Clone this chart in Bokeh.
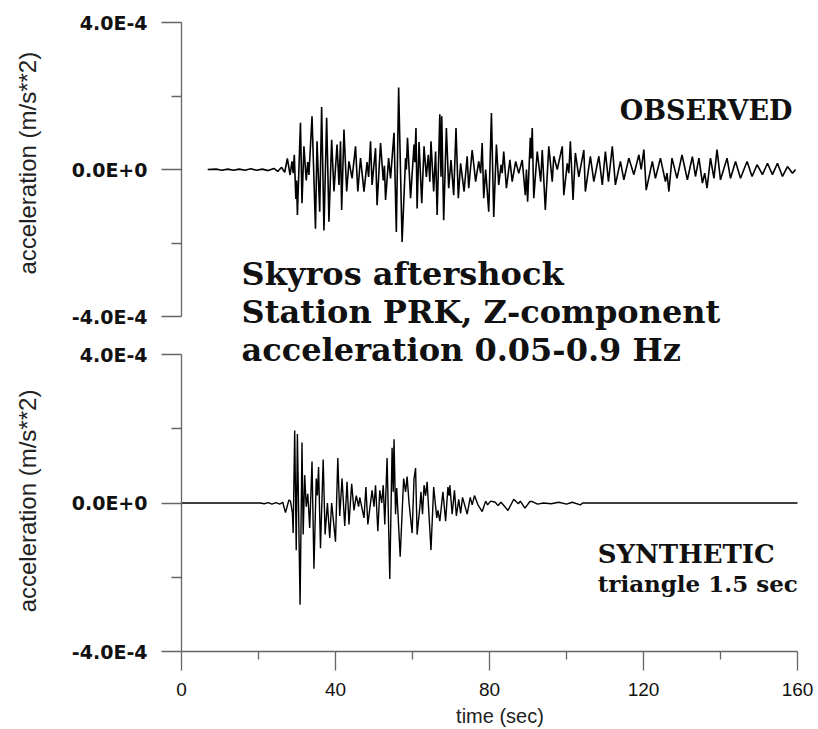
from bokeh.plotting import figure
from bokeh.layouts import column
from bokeh.models import FixedTicker, CustomJSTickFormatter, Label, ColumnDataSource, Range1d
from bokeh.embed import file_html
from bokeh.resources import INLINE
import numpy as np

# ---------------- data (time in s, acceleration in units of 1E-4 m/s**2) ----------------
obs_time = [6.8, 9.0, 10.5, 12.0, 13.5, 15.0, 16.5, 18.0, 19.5, 21.0, 22.5, 24.0, 25.0, 26.0, 26.8,
            27.5, 28.2, 28.7, 29.0, 29.3, 29.7, 29.9, 30.1, 30.9, 31.3, 31.8, 32.4, 32.8, 33.1, 33.9,
            34.8, 35.2, 35.9, 36.4, 37.0, 37.7, 38.3, 39.0, 39.6, 40.4, 40.9, 41.3, 41.6, 42.2, 42.9,
            43.5, 44.3, 45.2, 45.8, 46.5, 47.4, 48.2, 48.6, 49.1, 49.5, 50.4, 50.8, 51.7, 52.4, 52.7,
            53.0, 53.8, 54.3, 55.2, 55.8, 56.4, 57.3, 58.2, 58.4, 58.7, 59.5, 60.4, 60.6, 60.9, 61.2,
            61.7, 62.4, 63.0, 63.6, 64.1, 64.5, 64.8, 65.5, 66.0, 66.4, 67.1, 67.4, 67.6, 68.1, 68.8,
            69.4, 70.0, 70.7, 71.3, 71.9, 72.5, 73.4, 74.2, 74.6, 75.5, 76.4, 77.2, 77.7, 78.1, 78.5,
            79.0, 79.8, 80.5, 81.1, 81.8, 82.4, 83.0, 83.3, 83.7, 84.4, 85.3, 85.9, 86.8, 87.6, 88.5,
            89.3, 89.6, 89.9, 90.6, 90.8, 91.1, 91.5, 92.4, 93.3, 93.7, 94.5, 95.4, 96.3, 96.7, 97.6,
            98.9, 99.3, 100.2, 100.6, 101.0, 101.7, 102.3, 103.2, 104.5, 104.9, 106.2, 107.1, 108.4,
            109.3, 110.1, 110.9, 111.9, 112.7, 114.0, 114.9, 116.2, 117.5, 118.8, 119.4, 120.1, 120.7,
            122.3, 123.1, 124.4, 125.7, 126.1, 126.6, 127.4, 128.7, 130.0, 131.4, 132.7, 133.5, 134.4,
            135.3, 135.9, 136.5, 137.4, 138.3, 139.1, 140.0, 141.7, 142.6, 143.9, 145.2, 146.9, 148.2,
            149.5, 150.9, 152.2, 153.5, 154.8, 156.1, 157.4, 158.7, 159.5]
obs_acc_e4 = [0.0, 0.01, -0.02, 0.01, -0.02, 0.01, -0.02, 0.02, -0.02, 0.01, -0.03, 0.03, -0.05, 0.06, -0.08,
              0.3, -0.15, 0.22, -0.1, 0.4, -0.8, -0.3, -1.24, 1.27, -0.92, 0.63, -0.3, 0.2, -0.15, 1.45,
              -1.61, 0.77, -1.15, 1.70, -1.66, 1.41, -1.42, 0.81, -0.60, 0.68, -0.42, 0.77, -1.10, 1.09, -0.60,
              0.22, -0.24, 0.63, -0.60, 0.31, -0.60, 0.2, -0.2, 0.77, -0.42, 0.58, -0.97, 0.72, -0.3, 0.1,
              -0.83, 0.31, -0.24, 1.0, -1.70, 2.23, -1.97, 0.31, 0.0, 0.86, -0.78, 0.68, 0.2, 1.13, -1.06,
              0.75, -0.92, 0.63, -0.2, 0.4, -0.33, 0.77, -0.6, 0.49, -1.24, 1.5, -0.2, 1.45, -1.38, 1.13,
              -0.51, 0.26, -0.70, 1.13, -0.78, 0.17, -0.60, 0.36, -0.51, 0.53, -0.33, 0.22, -0.1, 0.72, -0.78,
              0.0, -1.15, 1.54, -1.29, 0.68, -0.42, 0.13, -0.1, 0.49, -0.51, 0.26, -0.33, 0.22, -0.1, 0.26,
              -0.70, 0.0, -0.88, 0.86, 0.3, 1.13, -0.78, 0.49, -0.33, 0.53, -1.10, 0.63, -0.33, 0.36, 0.0,
              0.63, -0.70, 0.17, -0.1, 0.77, -0.83, 0.45, -0.2, 0.53, -0.60, 0.36, -0.33, 0.36,
              -0.42, 0.49, -0.33, 0.63, -0.42, 0.22, -0.28, 0.31, -0.14, 0.40, 0.0, 0.54, -0.56,
              0.22, -0.24, 0.31, -0.33, -0.1, -0.6, 0.31, -0.24, 0.40, -0.28, 0.35, -0.19, 0.31,
              -0.37, -0.1, -0.51, 0.31, -0.24, 0.54, -0.28, 0.31, -0.24, 0.22, -0.24, 0.22, -0.19,
              0.13, -0.14, 0.17, -0.14, 0.17, -0.19, 0.08, -0.10, 0.0]

syn_time = [0.0, 20.5, 21.5, 22.5, 23.5, 24.5, 25.5, 26.3, 27.0, 27.9, 28.3, 28.8, 29.0, 29.4, 29.8,
            30.1, 30.8, 31.3, 31.6, 32.0, 32.4, 32.8, 33.3, 33.9, 34.4, 35.0, 35.3, 35.6, 36.1, 36.8,
            37.3, 37.9, 38.5, 39.0, 40.0, 40.6, 41.1, 41.7, 42.4, 43.0, 43.5, 44.2, 44.8, 45.4, 46.0,
            46.3, 47.4, 47.9, 48.4, 49.5, 50.0, 50.4, 51.0, 51.5, 52.0, 52.4, 52.8, 53.4, 54.1, 54.7,
            55.0, 55.2, 55.6, 55.9, 56.8, 57.7, 58.2, 58.6, 59.1, 59.9, 60.4, 60.8, 61.2, 61.9, 62.2,
            62.6, 63.0, 63.4, 63.8, 64.8, 65.5, 66.3, 66.6, 67.1, 67.9, 68.6, 69.2, 69.5, 69.7, 70.3,
            70.9, 71.4, 72.0, 72.5, 73.0, 74.2, 75.0, 75.5, 76.1, 77.0, 78.1, 79.0, 79.5, 80.3, 81.5,
            82.2, 83.0, 84.8, 86.3, 87.5, 88.0, 89.2, 90.5, 91.1, 92.5, 94.0, 96.0, 98.0, 100.0, 101.5,
            103.6, 104.2, 160.0]
syn_acc_e4 = [0.0, 0.0, -0.02, 0.01, -0.03, 0.01, -0.03, 0.02, -0.26, 0.08, 0.05, -0.26, -0.81, 1.95, -1.27,
              1.86, -2.74, 1.63, -0.85, 0.75, -0.1, 0.25, -0.67, 1.12, -1.77, 0.66, 0.2, 0.97, -1.22, 1.17,
              -0.85, 0.0, -0.94, 0.0, -1.04, 1.21, -0.35, 0.66, -0.62, 0.57, -0.58, 0.52, -0.2, 0.2, -0.1,
              0.15, -0.40, 0.43, -0.58, 0.34, -0.1, 0.48, -0.76, 0.34, 0.0, 0.48, -0.58, 1.21, -2.05, 1.49,
              0.3, 1.72, -0.3, 0.4, -1.45, 0.66, 0.3, 0.71, 0.0, -0.81, 0.66, 0.94, -0.85, -0.12, 0.3,
              -0.3, 0.48, 0.2, 0.57, -1.27, 0.43, -0.4, -0.2, -0.49, 0.3, -0.49, 0.43, 0.2, 0.48, -0.3,
              0.34, -0.35, 0.1, -0.28, 0.15, -0.3, 0.15, -0.05, 0.2, -0.05, -0.23, 0.05, -0.05, 0.05, 0.02,
              -0.07, 0.02, -0.2, 0.1, -0.02, 0.05, -0.14, 0.04, 0.04, -0.03, 0.0, -0.02, 0.02, -0.03, 0.02,
              -0.05, 0.0, 0.0]

x_ticks = [0, 40, 80, 120, 160]
x_minor_ticks = [20, 60, 100, 140]
y_ticks = [-4e-4, 0.0, 4e-4]
y_minor_ticks = [-2e-4, 2e-4]

title_lines = ["Skyros aftershock", "Station PRK, Z-component", "acceleration 0.05-0.9 Hz"]
y_label = "acceleration (m/s**2)"

obs_src = ColumnDataSource(dict(t=obs_time, a=np.array(obs_acc_e4) * 1e-4))
syn_src = ColumnDataSource(dict(t=syn_time, a=np.array(syn_acc_e4) * 1e-4))

AX = "#666666"
T0, T1 = 0.0, 160.0
A0, A1 = -4e-4, 4e-4
PX_PER_SEC = 616.0 / (T1 - T0)        # axis 0..160 spans 616 px
EXTRA_RIGHT = 21.0 / PX_PER_SEC        # frame runs to the right edge
NB = "\u00a0"


def make_fig(height, top_pad, bottom_pad, axis_px, show_x, label_text):
    """axis_px: pixel length of the -4E-4..4E-4 axis; top_pad/bottom_pad: frame px beyond it."""
    per_px = (A1 - A0) / axis_px
    y_rng = Range1d(A0 - bottom_pad * per_px, A1 + top_pad * per_px)
    p = figure(width=818, height=height,
               x_range=Range1d(T0, T1 + EXTRA_RIGHT), y_range=y_rng,
               output_backend="svg", toolbar_location=None,
               x_axis_location="below" if show_x else None,
               min_border_left=181, min_border_right=0,
               min_border_top=0, min_border_bottom=78 if show_x else 0)
    p.grid.visible = False
    p.outline_line_color = None
    p.background_fill_color = "white"
    p.border_fill_color = "white"
    ya = p.yaxis[0]
    ya.bounds = (A0, A1)
    ya.ticker = FixedTicker(ticks=y_ticks, minor_ticks=y_minor_ticks)
    ya.formatter = CustomJSTickFormatter(code="return tick.toExponential(1).toUpperCase();")
    ya.axis_line_color = AX
    ya.axis_line_width = 1.3
    ya.major_tick_line_color = AX
    ya.major_tick_line_width = 1.3
    ya.minor_tick_line_color = AX
    ya.minor_tick_line_width = 1.3
    ya.major_tick_in = 0
    ya.major_tick_out = 20
    ya.minor_tick_in = 0
    ya.minor_tick_out = 10
    ya.major_label_text_font = "DejaVu Sans"
    ya.major_label_text_font_style = "bold"
    ya.major_label_text_font_size = "19px"
    ya.major_label_text_color = "#111111"
    ya.major_label_standoff = 14
    ya.axis_label = label_text
    ya.axis_label_text_font = "Liberation Sans"
    ya.axis_label_text_font_style = "normal"
    ya.axis_label_text_font_size = "24px"
    ya.axis_label_text_color = "#222222"
    ya.axis_label_standoff = 28
    if show_x:
        xa = p.xaxis[0]
        xa.bounds = (T0, T1)
        xa.ticker = FixedTicker(ticks=x_ticks, minor_ticks=x_minor_ticks)
        xa.axis_line_color = AX
        xa.axis_line_width = 1.3
        xa.major_tick_line_color = AX
        xa.major_tick_line_width = 1.3
        xa.minor_tick_line_color = AX
        xa.minor_tick_line_width = 1.3
        xa.major_tick_in = 0
        xa.major_tick_out = 19
        xa.minor_tick_in = 0
        xa.minor_tick_out = 8
        xa.major_label_text_font = "Liberation Sans"
        xa.major_label_text_font_size = "19px"
        xa.major_label_text_color = "#111111"
        xa.major_label_standoff = 12
        xa.axis_label = "time (sec)"
        xa.axis_label_text_font = "Liberation Sans"
        xa.axis_label_text_font_style = "normal"
        xa.axis_label_text_font_size = "20px"
        xa.axis_label_text_color = "#222222"
        xa.axis_label_standoff = 6
    return p


def serif_label(p, x, y, text, size, align="left"):
    p.add_layout(Label(x=x, y=y, text=text, text_align=align, text_baseline="alphabetic",
                       text_font="DejaVu Serif", text_font_style="bold",
                       text_font_size=size, text_color="#111111"))


# top panel: canvas rows 0..330, axis 22..316, frame 22..330
top = make_fig(330, 0, 14, 294, False, NB * 4 + y_label)
top.min_border_top = 22
top.line("t", "a", source=obs_src, line_color="black", line_width=1.6)
serif_label(top, 158.7, 1.61e-4, "OBSERVED", "27px", "right")
serif_label(top, 15.6, -2.83e-4, title_lines[0], "32px")
serif_label(top, 15.6, -3.89e-4, title_lines[1], "32px")

# bottom panel: canvas rows 330..729, frame 330..651, axis 354..651
bot = make_fig(399, 24, 0, 297, True, y_label + NB * 3)
bot.line("t", "a", source=syn_src, line_color="black", line_width=1.4)
serif_label(bot, 15.6, 4.12e-4, title_lines[2], "32px")
serif_label(bot, 108.1, -1.38e-4, "SYNTHETIC", "26px")
serif_label(bot, 108.1, -2.18e-4, "triangle 1.5 sec", "23px")

layout = column(top, bot, spacing=0)
open("out.html", "w").write(file_html(layout, INLINE))
